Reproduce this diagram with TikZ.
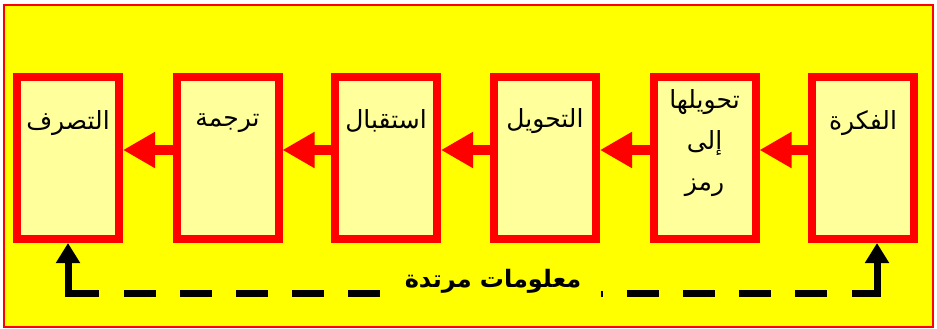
\documentclass[tikz,border=0pt]{standalone}
\usepackage{fontspec}
\newfontfamily\arabicfont[Script=Arabic]{DejaVu Sans}
\TeXXeTstate=1
\usetikzlibrary{arrows.meta,calc}
\definecolor{bgyellow}{RGB}{255,255,0}
\definecolor{boxfill}{RGB}{255,255,156}
\definecolor{boxred}{RGB}{255,0,0}
\begin{document}
\begin{tikzpicture}[x=1pt,y=-1pt,
  stagebox/.style={draw=boxred,fill=boxfill,line width=8pt,minimum width=102pt,minimum height=162pt,inner sep=0pt},
  stagetext/.style={font=\arabicfont\fontsize{25}{30}\selectfont,align=center,text=black,inner sep=0pt},
  flow/.style={draw=boxred,line width=10pt,-{Triangle[length=32pt,width=34pt]}},
  fbline/.style={draw=black,line width=7pt},
  fbarrow/.style={fbline,-{Triangle[length=20pt,width=23pt]}},
  fbdash/.style={fbline,dash pattern=on 32pt off 24pt}]
  % page and frame
  \fill[white] (0,0) rectangle (937,329);
  \useasboundingbox (0,0) rectangle (937,329);
  \draw[boxred,line width=1.5pt,fill=bgyellow] (4,5) rectangle (933,327);

  % the six stages
  \node[stagebox] (b1) at (68,158) {};
  \node[stagebox] (b2) at (227.5,158) {};
  \node[stagebox] (b3) at (386,158) {};
  \node[stagebox] (b4) at (545,158) {};
  \node[stagebox] (b5) at (704.5,158) {};
  \node[stagebox] (b6) at (863,158) {};

  \node[stagetext] (t1) at (68,123) {\beginR التصرف\endR};
  \node[stagetext] (t2) at (227.5,123) {\beginR ترجمة\endR};
  \node[stagetext] (t3) at (386,121) {\beginR استقبال\endR};
  \node[stagetext] (t4) at (545,121) {\beginR التحويل\endR};
  \node[stagetext,font=\arabicfont\fontsize{25}{41}\selectfont] (t5) at (704.5,143) {\beginR تحويلها\endR\\\beginR إلى\endR\\\beginR رمز\endR};
  \node[stagetext] (t6) at (863,123) {\beginR الفكرة\endR};

  % forward flow, right to left
  \foreach \a/\b in {b2/b1,b3/b2,b4/b3,b5/b4,b6/b5}
    \draw[flow] ([yshift=8pt]\a.west) -- ([yshift=8pt]\b.east);

  % feedback path
  \coordinate (fbR) at (877,293);
  \coordinate (fbL) at (68,293);
  \draw[fbarrow] (852,293) -- (fbR) -- (fbR |- b6.south);
  \draw[fbarrow] (99,293) -- (fbL) -- (b1.south);
  \draw[fbdash] (124,293) -- (381,293);
  \draw[fbdash] (627,293) -- (828,293);
  \fill[black] (601,291) rectangle (603,297);
  \node[font=\arabicfont\bfseries\fontsize{24}{28}\selectfont,inner sep=0pt] (fb) at (493,281) {\beginR معلومات مرتدة\endR};
\end{tikzpicture}
\end{document}
